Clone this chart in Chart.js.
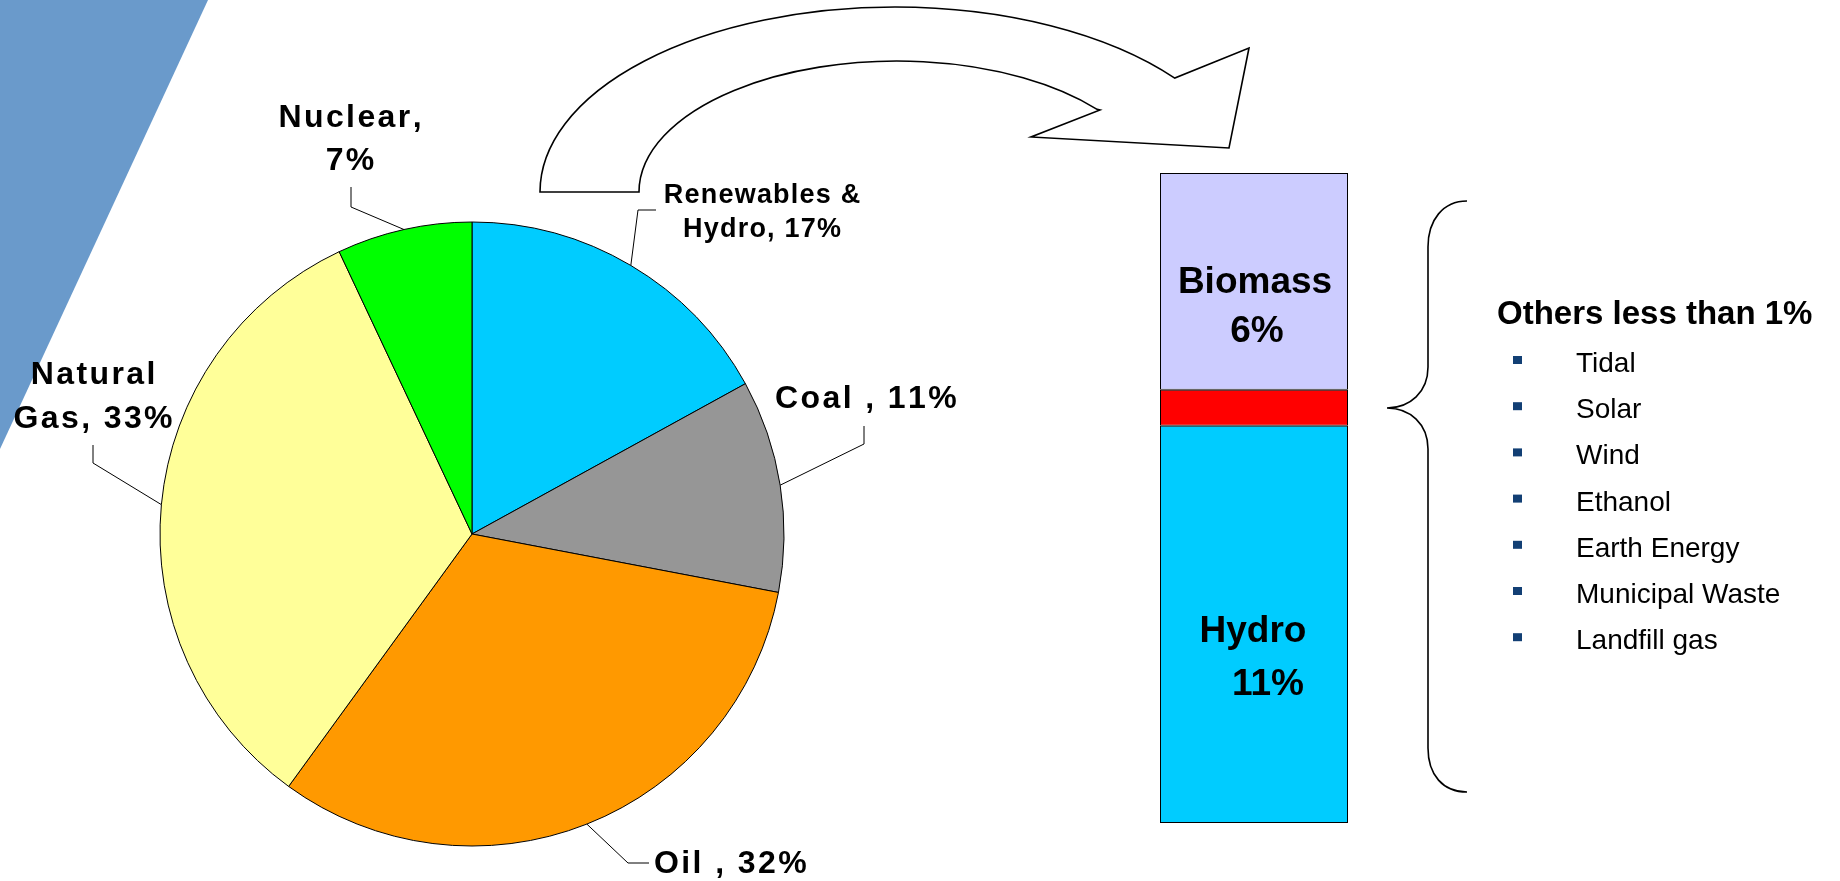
<!DOCTYPE html>
<html>
<head>
<meta charset="utf-8">
<script src="https://cdn.jsdelivr.net/npm/chart.js@4/dist/chart.umd.min.js"></script>
<style>
html, body { margin: 0; padding: 0; background: #ffffff; overflow: hidden; }
#wrap { position: relative; width: 1840px; height: 881px; }
#wrap canvas { position: absolute; left: 0; top: 0; }
</style>
</head>
<body>
<div id="wrap">
  <canvas id="pie" width="1840" height="881"></canvas>
  <canvas id="bar" width="1840" height="881"></canvas>
</div>
<script>
// ---------------- DATA ----------------
const pieCategories = ['Renewables & Hydro', 'Coal', 'Oil', 'Natural Gas', 'Nuclear'];
const pieValues = [17, 11, 32, 33, 7];
const pieColors = ['#00CCFF', '#969696', '#FF9900', '#FFFF99', '#00FF00'];

const barCategories = ['Renewables & Hydro'];
const barSeriesNames = ['Hydro', 'Others', 'Biomass'];
const hydroValues = [11];
const otherValues = [1];
const biomassValues = [6];
const barColors = ['#00CCFF', '#FF0000', '#CCCCFF'];

const othersTitle = 'Others less than 1%';
const othersItems = ['Tidal', 'Solar', 'Wind', 'Ethanol', 'Earth Energy', 'Municipal Waste', 'Landfill gas'];

// label texts built from the data
const pieLabelLines = [
  ['Renewables &', 'Hydro, ' + pieValues[0] + '%'],
  ['Coal , ' + pieValues[1] + '%'],
  ['Oil , ' + pieValues[2] + '%'],
  ['Natural', 'Gas, ' + pieValues[3] + '%'],
  ['Nuclear,', pieValues[4] + '%']
];

// ---------------- LAYOUT (positions/styles only) ----------------
const FONT = '"Liberation Sans", Arial, Helvetica, sans-serif';
const pieLabelLayout = [
  { cx: 762, base: [203, 237], size: 27, ls: 1.2, leader: [[638, 210], [656, 210]] },
  { left: 775, base: [408], size: 32, ls: 2.4, leader: [[864, 444], [864, 426]] },
  { left: 654, base: [873], size: 32, ls: 2.4, leader: [[628, 863], [649, 863]] },
  { cx: 93, base: [384, 428], size: 32, ls: 2.4, leader: [[93, 463], [93, 445]] },
  { cx: 350, base: [127, 170], size: 32, ls: 2.4, leader: [[351, 207], [351, 187]] }
];

function drawSpaced(ctx, text, x, y, ls, center) {
  ctx.textAlign = 'left';
  const chars = Array.from(text);
  let total = 0;
  const ws = chars.map(c => ctx.measureText(c).width);
  ws.forEach(w => total += w);
  total += ls * (chars.length - 1);
  let cx = center ? x - total / 2 : x;
  chars.forEach((c, i) => {
    ctx.fillText(c, cx, y);
    cx += ws[i] + ls;
  });
}

const decorPlugin = {
  id: 'decor',
  beforeDraw(chart) {
    const ctx = chart.ctx;
    ctx.save();
    ctx.fillStyle = '#ffffff';
    ctx.fillRect(0, 0, chart.width, chart.height);
    // blue diagonal band
    ctx.fillStyle = '#6A9ACB';
    ctx.beginPath();
    ctx.moveTo(0, 0);
    ctx.lineTo(208, 0);
    ctx.lineTo(0, 449);
    ctx.closePath();
    ctx.fill();
    ctx.restore();
  },
  afterDatasetsDraw(chart) {
    const ctx = chart.ctx;
    ctx.save();
    // curved arrow
    ctx.beginPath();
    ctx.moveTo(540, 192);
    ctx.ellipse(895, 192, 355, 185, 0, Math.PI, 5.62, false);
    ctx.lineTo(1249, 48);
    ctx.lineTo(1229, 148);
    ctx.lineTo(1031, 137);
    ctx.lineTo(1100, 110);
    ctx.ellipse(897, 192, 258, 131, 0, 5.60, Math.PI, true);
    ctx.closePath();
    ctx.fillStyle = '#ffffff';
    ctx.fill();
    ctx.lineWidth = 1.6;
    ctx.strokeStyle = '#000000';
    ctx.lineJoin = 'miter';
    ctx.stroke();

    // leader lines + labels
    const meta = chart.getDatasetMeta(0);
    ctx.lineWidth = 1;
    ctx.strokeStyle = '#000000';
    ctx.fillStyle = '#000000';
    ctx.textBaseline = 'alphabetic';
    meta.data.forEach((el, i) => {
      const p = el.getProps(['x', 'y', 'startAngle', 'endAngle', 'outerRadius'], true);
      const mid = (p.startAngle + p.endAngle) / 2;
      const ax = p.x + Math.cos(mid) * p.outerRadius;
      const ay = p.y + Math.sin(mid) * p.outerRadius;
      const L = pieLabelLayout[i];
      ctx.beginPath();
      ctx.moveTo(ax, ay);
      L.leader.forEach(pt => ctx.lineTo(pt[0], pt[1]));
      ctx.stroke();
      ctx.font = 'bold ' + L.size + 'px ' + FONT;
      pieLabelLines[i].forEach((line, j) => {
        if (L.cx !== undefined) drawSpaced(ctx, line, L.cx, L.base[j], L.ls, true);
        else drawSpaced(ctx, line, L.left, L.base[j], L.ls, false);
      });
    });

    // brace
    ctx.beginPath();
    ctx.moveTo(1467, 201);
    ctx.bezierCurveTo(1443, 201, 1428, 220, 1428, 247);
    ctx.lineTo(1428, 367);
    ctx.bezierCurveTo(1428, 392, 1410, 408, 1387, 408);
    ctx.bezierCurveTo(1410, 408, 1428, 424, 1428, 449);
    ctx.lineTo(1428, 748);
    ctx.bezierCurveTo(1428, 775, 1443, 792, 1467, 792);
    ctx.lineWidth = 1.6;
    ctx.stroke();

    // others list
    ctx.fillStyle = '#000000';
    ctx.textAlign = 'left';
    ctx.font = 'bold 33px ' + FONT;
    ctx.fillText(othersTitle, 1497, 324);
    ctx.font = '28px ' + FONT;
    othersItems.forEach((t, i) => {
      const by = 372 + i * 46.2;
      ctx.fillStyle = '#123F74';
      ctx.fillRect(1513, by - 16, 9, 8);
      ctx.fillStyle = '#000000';
      ctx.fillText(t, 1576, by);
    });
    ctx.restore();
  }
};

new Chart(document.getElementById('pie').getContext('2d'), {
  type: 'pie',
  data: {
    labels: pieCategories,
    datasets: [{
      data: pieValues,
      backgroundColor: pieColors,
      borderColor: '#000000',
      borderWidth: 1,
      hoverBorderWidth: 1,
      hoverOffset: 0,
      offset: 0
    }]
  },
  options: {
    responsive: false,
    animation: false,
    events: [],
    layout: { padding: { left: 159.5, top: 221.5, right: 1055.5, bottom: 34.5 } },
    plugins: { legend: { display: false }, tooltip: { enabled: false } }
  },
  plugins: [decorPlugin]
});

const barLabelPlugin = {
  id: 'barLabels',
  afterDatasetsDraw(chart) {
    const ctx = chart.ctx;
    ctx.save();
    ctx.fillStyle = '#000000';
    ctx.textAlign = 'center';
    ctx.textBaseline = 'alphabetic';
    ctx.font = 'bold 37px ' + FONT;
    // Hydro (dataset 0)
    const h = chart.getDatasetMeta(0).data[0].getProps(['x', 'y', 'base'], true);
    const hh = h.base - h.y;
    ctx.fillText(barSeriesNames[0], h.x - 1, h.y + hh * 0.544);
    ctx.fillText(hydroValues[0] + '%', h.x + 14, h.y + hh * 0.678);
    // Biomass (dataset 2)
    const b = chart.getDatasetMeta(2).data[0].getProps(['x', 'y', 'base'], true);
    const bh = b.base - b.y;
    ctx.fillText(barSeriesNames[2], b.x + 1, b.y + bh * 0.553);
    ctx.fillText(biomassValues[0] + '%', b.x + 3, b.y + bh * 0.779);
    ctx.restore();
  }
};

new Chart(document.getElementById('bar').getContext('2d'), {
  type: 'bar',
  data: {
    labels: barCategories,
    datasets: [
      { label: barSeriesNames[0], data: hydroValues, backgroundColor: barColors[0] },
      { label: barSeriesNames[1], data: otherValues, backgroundColor: barColors[1] },
      { label: barSeriesNames[2], data: biomassValues, backgroundColor: barColors[2] }
    ]
  },
  options: {
    responsive: false,
    animation: false,
    events: [],
    datasets: {
      bar: {
        barPercentage: 1,
        categoryPercentage: 1,
        borderColor: '#000000',
        borderWidth: 1,
        borderSkipped: false,
        inflateAmount: 0
      }
    },
    layout: { padding: { left: 1160, right: 492, top: 173, bottom: 58 } },
    scales: {
      x: { stacked: true, display: false },
      y: { stacked: true, display: false, min: 0, max: 18 }
    },
    plugins: { legend: { display: false }, tooltip: { enabled: false } }
  },
  plugins: [barLabelPlugin]
});
</script>
</body>
</html>
